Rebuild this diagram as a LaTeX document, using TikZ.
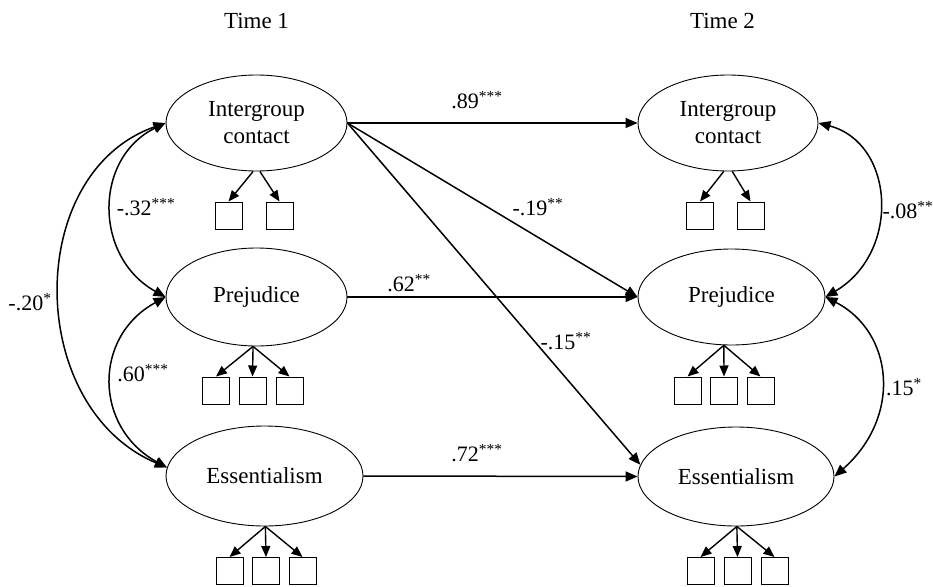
\documentclass[tikz,border=0pt]{standalone}
\usepackage{fontspec}
\setmainfont{Liberation Serif}
\usetikzlibrary{arrows.meta,shapes.geometric}
\begin{document}
\begin{tikzpicture}[x=1pt,y=-1pt,
  font=\fontsize{23}{27}\selectfont,
  latent/.style={draw,ellipse,line width=0.9pt,inner sep=0pt,align=center,minimum height=96pt},
  ind/.style={draw,rectangle,line width=1pt,minimum size=27pt,inner sep=0pt},
  arr/.style={line width=1.5pt,-{Triangle[length=12pt,width=10pt]}},
  iarr/.style={line width=1.4pt,-{Triangle[length=11pt,width=9pt]}},
  cov/.style={line width=1.5pt,{Triangle[length=12pt,width=10pt]}-{Triangle[length=12pt,width=10pt]}},
  lab/.style={inner sep=0pt,font=\fontsize{22}{26}\selectfont}]
\useasboundingbox (0,0) rectangle (933,586);

\node[lab,font=\fontsize{23}{27}\selectfont] (t1) at (256.5,21) {Time 1};
\node[lab,font=\fontsize{23}{27}\selectfont] (t2) at (722.5,21) {Time 2};

% latent variables
\node[latent,minimum width=181pt] (ic1) at (256.5,123) {Intergroup\\contact};
\node[latent,minimum width=181pt,minimum height=98pt] (pr1) at (256.5,297) {Prejudice};
\node[latent,minimum width=197pt,minimum height=100pt] (es1) at (264.5,476) {Essentialism};
\node[latent,minimum width=180pt] (ic2) at (728,123) {Intergroup\\contact};
\node[latent,minimum width=187pt] (pr2) at (731.5,297) {Prejudice};
\node[latent,minimum width=196pt,minimum height=99pt] (es2) at (736,476.5) {Essentialism};

% indicators
\node[ind] (ic1a) at (228.5,215.5) {};
\node[ind] (ic1b) at (279.5,215.5) {};
\node[ind] (pr1a) at (216,390.5) {};
\node[ind] (pr1b) at (252.5,390.5) {};
\node[ind] (pr1c) at (289.5,390.5) {};
\node[ind] (es1a) at (229.5,571) {};
\node[ind] (es1b) at (266,571) {};
\node[ind] (es1c) at (302.5,571) {};
\node[ind] (ic2a) at (700,215.5) {};
\node[ind] (ic2b) at (750.5,215.5) {};
\node[ind] (pr2a) at (687.5,390.5) {};
\node[ind] (pr2b) at (724,390.5) {};
\node[ind] (pr2c) at (760.5,390.5) {};
\node[ind] (es2a) at (700.5,571) {};
\node[ind] (es2b) at (737.5,571) {};
\node[ind] (es2c) at (774.5,571) {};

\draw[iarr] (ic1.-94) -- (ic1a.north);
\draw[iarr] (ic1.-86) -- (ic1b.north);
\draw[iarr] (pr1.-94) -- (pr1a.north);
\draw[iarr] (pr1.-94) -- (pr1b.north);
\draw[iarr] (pr1.-94) -- (pr1c.north);
\draw[iarr] (es1.-89) -- (es1a.north);
\draw[iarr] (es1.-89) -- (es1b.north);
\draw[iarr] (es1.-89) -- (es1c.north);
\draw[iarr] (ic2.-95) -- (ic2a.north);
\draw[iarr] (ic2.-85) -- (ic2b.north);
\draw[iarr] (pr2.-99) -- (pr2a.north);
\draw[iarr] (pr2.-99) -- (pr2b.north);
\draw[iarr] (pr2.-99) -- (pr2c.north);
\draw[iarr] (es2.-89) -- (es2a.north);
\draw[iarr] (es2.-89) -- (es2b.north);
\draw[iarr] (es2.-89) -- (es2c.north);

% structural paths
\draw[arr] (ic1.east) -- (ic2.west);
\draw[arr] (ic1.east) -- (pr2.west);
\draw[arr] (ic1.east) -- (es2.173);
\draw[arr] (pr1.east) -- (pr2.west);
\draw[arr] (es1.east) -- (es2.west);

% covariances
\draw[cov] (ic1.west) .. controls +(-72,35) and +(-72,-40) .. (pr1.west);
\draw[cov] (pr1.west) .. controls +(-73,40) and +(-73,-40) .. (es1.175);
\draw[cov] (ic1.west) .. controls +(-142,50) and +(-142,-60) .. (es1.175);
\draw[cov] (ic2.east) .. controls +(76,20) and +(76,-45) .. (pr2.east);
\draw[cov] (pr2.east) .. controls +(68,35) and +(68,-60) .. (es2.east);

% labels
\node[lab] (l89) at (477,100) {.89\textsuperscript{***}};
\node[lab] (l19) at (538,207) {-.19\textsuperscript{**}};
\node[lab] (l62) at (409,283) {.62\textsuperscript{**}};
\node[lab] (l15n) at (566,341) {-.15\textsuperscript{**}};
\node[lab] (l72) at (477,453) {.72\textsuperscript{***}};
\node[lab] (l32) at (146,207) {-.32\textsuperscript{***}};
\node[lab] (l60) at (143,373) {.60\textsuperscript{***}};
\node[lab] (l20) at (30,302) {-.20\textsuperscript{*}};
\node[lab] (l08) at (908,210) {-.08\textsuperscript{**}};
\node[lab] (l15) at (904,387) {.15\textsuperscript{*}};
\end{tikzpicture}
\end{document}
